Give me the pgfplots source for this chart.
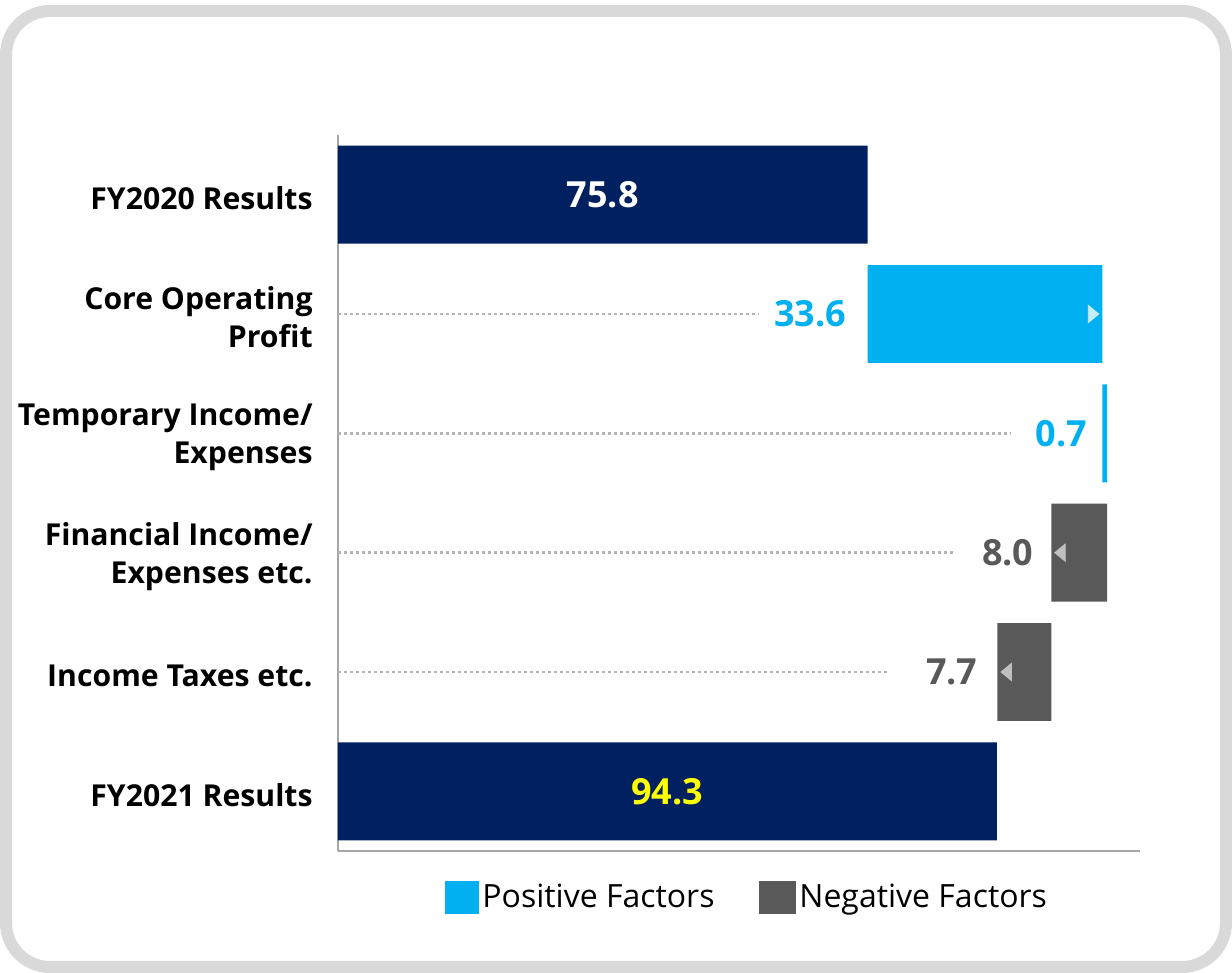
\documentclass[border=0pt]{standalone}
\usepackage{fontspec}
\setmainfont{Open Sans}
\usepackage{pgfplots}
\pgfplotsset{compat=1.18}
\definecolor{navy}{RGB}{0,32,96}
\definecolor{cyanb}{RGB}{0,176,240}
\definecolor{grayb}{RGB}{89,89,89}
\definecolor{framec}{RGB}{217,217,217}
\definecolor{axisc}{RGB}{166,166,166}
\definecolor{dotc}{RGB}{180,180,180}
\definecolor{tric}{RGB}{197,238,251}
\definecolor{trig}{RGB}{191,191,191}
\definecolor{yel}{RGB}{255,255,0}
\pgfplotsset{
  common/.style={
    at={(169pt,61pt)}, anchor=south west, scale only axis,
    width=401pt, height=358pt,
    xmin=0, xmax=114.8, ymin=-0.5, ymax=5.5, y dir=reverse,
    clip=false,
  }
}
\begin{document}
\begin{tikzpicture}
\useasboundingbox (0pt,0pt) rectangle (616pt,486.5pt);
\draw[framec, line width=6pt, rounded corners=22pt] (3pt,3pt) rectangle (613pt,481pt);
\begin{axis}[common,
  xbar stacked, bar width=0.82,
  axis x line*=bottom, axis y line*=left,
  axis line style={axisc, line width=1pt, -},
  xtick=\empty, ytick={0,1,2,3,4,5},
  yticklabels={FY2020 Results, {Core Operating\\Profit}, {Temporary Income/\\Expenses}, {Financial Income/\\Expenses etc.}, Income Taxes etc., FY2021 Results},
  major tick length=0pt,
  yticklabel style={font=\fontsize{15.1}{19}\selectfont\bfseries, align=right, inner sep=0pt, xshift=-12.5pt, yshift=-1.8pt},
]
\addplot[fill=none, draw=none] coordinates {(0,0) (75.8,1) (109.4,2) (102.1,3) (94.4,4) (0,5)};
\addplot[fill=navy, draw=none] coordinates {(75.8,0) (0,1) (0,2) (0,3) (0,4) (94.3,5)};
\addplot[fill=cyanb, draw=none] coordinates {(0,0) (33.6,1) (0.7,2) (0,3) (0,4) (0,5)};
\addplot[fill=grayb, draw=none] coordinates {(0,0) (0,1) (0,2) (8.0,3) (7.7,4) (0,5)};
\end{axis}
\begin{axis}[common, hide axis,
  legend columns=2,
  legend style={draw=none, fill=none, at={(0.511,-0.065)}, anchor=center,
    font=\fontsize{16}{19}\selectfont,
    /tikz/every even column/.append style={column sep=20pt}},
  nodes near coords={\pgfplotspointmeta}, point meta=explicit symbolic,
]
% dotted leader lines
\addplot[dotc, line width=1.4pt, dash pattern=on 1.4pt off 1.6pt, forget plot, nodes near coords={}] coordinates {(0,1) (60.3,1)};
\addplot[dotc, line width=1.4pt, dash pattern=on 1.4pt off 1.6pt, forget plot, nodes near coords={}] coordinates {(0,2) (96.3,2)};
\addplot[dotc, line width=1.4pt, dash pattern=on 1.4pt off 1.6pt, forget plot, nodes near coords={}] coordinates {(0,3) (88.4,3)};
\addplot[dotc, line width=1.4pt, dash pattern=on 1.4pt off 1.6pt, forget plot, nodes near coords={}] coordinates {(0,4) (78.8,4)};
% triangles
\addplot[only marks, mark=triangle*, mark size=5pt, mark options={tric, draw=none, rotate=-90, yscale=0.7}, forget plot, nodes near coords={}] coordinates {(107.9,1)};
\addplot[only marks, mark=triangle*, mark size=5pt, mark options={trig, draw=none, rotate=90, yscale=0.7}, forget plot, nodes near coords={}] coordinates {(103.6,3) (95.9,4)};
% value labels
\addplot[only marks, mark=none, forget plot,
  every node near coord/.append style={white, anchor=center, inner sep=0pt, font=\fontsize{18}{21}\selectfont\bfseries}]
  coordinates {(37.9,0) [75.8]};
\addplot[only marks, mark=none, forget plot,
  every node near coord/.append style={yel, anchor=center, inner sep=0pt, font=\fontsize{18}{21}\selectfont\bfseries}]
  coordinates {(47.15,5) [94.3]};
\addplot[only marks, mark=none, forget plot,
  every node near coord/.append style={cyanb, anchor=east, inner sep=0pt, font=\fontsize{18}{21}\selectfont\bfseries}]
  coordinates {(72.8,1) [33.6] (107.3,2) [0.7]};
\addplot[only marks, mark=none, forget plot,
  every node near coord/.append style={grayb, anchor=east, inner sep=0pt, font=\fontsize{18}{21}\selectfont\bfseries}]
  coordinates {(99.6,3) [8.0] (91.6,4) [7.7]};
\addlegendimage{legend image code/.code={\fill[cyanb] (0pt,-8pt) rectangle (16.5pt,8pt);}}
\addlegendentry{Positive Factors}
\addlegendimage{legend image code/.code={\fill[grayb] (0pt,-8pt) rectangle (18pt,8pt);}}
\addlegendentry{Negative Factors}
\end{axis}
\end{tikzpicture}
\end{document}
